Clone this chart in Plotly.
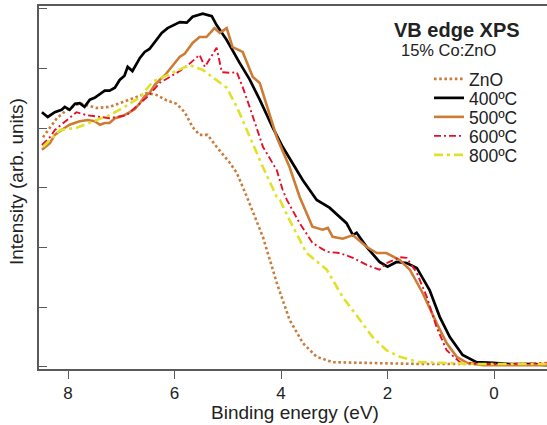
import plotly.graph_objects as go

# Valence-band edge XPS spectra, 15% Co:ZnO annealed at several temperatures
zno_x = [8.47, 8.21, 8.02, 7.78, 7.46, 7.22, 6.97, 6.71, 6.52, 6.34, 6.15, 5.96, 5.81, 5.66, 5.53,
         5.38, 5.21, 4.96, 4.83, 4.64, 4.34, 4.08, 3.84, 3.59, 3.33, 3.03, 2.39, 1.40, 0.27, -0.99]
zno_y = [3.85, 4.17, 4.31, 4.42, 4.34, 4.36, 4.44, 4.52, 4.59, 4.56, 4.47, 4.41, 4.27, 4.02, 3.89,
         3.89, 3.69, 3.42, 3.25, 2.85, 2.18, 1.41, 0.79, 0.40, 0.17, 0.08, 0.07, 0.05, 0.05, 0.05]

t400_x = [8.49, 8.38, 8.25, 8.12, 8.06, 7.97, 7.87, 7.78, 7.69, 7.59, 7.50, 7.40, 7.31, 7.22, 7.12,
          7.03, 6.94, 6.88, 6.79, 6.65, 6.56, 6.47, 6.37, 6.24, 6.13, 6.00, 5.90, 5.77, 5.66, 5.47,
          5.30, 5.21, 5.02, 4.78, 4.59, 4.40, 4.16, 3.97, 3.71, 3.59, 3.33, 3.09, 2.77, 2.65, 2.58,
          2.39, 2.15, 2.00, 1.83, 1.64, 1.45, 1.21, 1.02, 0.83, 0.59, 0.33, 0.02, -0.30, -0.67, -0.99]
t400_y = [4.27, 4.19, 4.27, 4.31, 4.36, 4.31, 4.41, 4.42, 4.36, 4.48, 4.51, 4.58, 4.63, 4.63, 4.68,
          4.81, 4.88, 5.03, 4.96, 5.18, 5.28, 5.33, 5.45, 5.60, 5.68, 5.73, 5.78, 5.77, 5.87, 5.92,
          5.88, 5.73, 5.48, 5.10, 4.82, 4.48, 4.02, 3.69, 3.30, 3.13, 2.80, 2.67, 2.41, 2.21, 2.25,
          2.01, 1.76, 1.68, 1.76, 1.74, 1.66, 1.29, 0.84, 0.50, 0.20, 0.08, 0.07, 0.05, 0.05, 0.03]

t500_x = [8.49, 8.34, 8.25, 8.15, 8.06, 7.97, 7.87, 7.78, 7.63, 7.50, 7.40, 7.31, 7.22, 7.12, 7.03,
          6.94, 6.84, 6.75, 6.65, 6.56, 6.47, 6.37, 6.28, 6.18, 6.09, 6.00, 5.90, 5.81, 5.66, 5.53,
          5.40, 5.25, 5.15, 5.02, 4.91, 4.72, 4.53, 4.40, 4.08, 3.84, 3.65, 3.41, 3.22, 3.12, 3.03,
          2.84, 2.65, 2.39, 2.20, 2.02, 1.77, 1.58, 1.34, 1.08, 0.89, 0.70, 0.51, 0.21, -0.30, -0.99]
t500_y = [3.64, 3.75, 3.89, 3.96, 4.01, 4.06, 4.09, 4.12, 4.14, 4.12, 4.06, 4.09, 4.09, 4.17, 4.19,
          4.22, 4.27, 4.32, 4.42, 4.54, 4.59, 4.73, 4.81, 4.89, 4.99, 5.09, 5.20, 5.25, 5.43, 5.53,
          5.53, 5.68, 5.60, 5.68, 5.36, 5.28, 4.86, 4.76, 3.85, 3.35, 2.85, 2.35, 2.30, 2.33, 2.18,
          2.15, 2.21, 2.01, 1.91, 1.91, 1.79, 1.63, 1.24, 0.74, 0.40, 0.17, 0.07, 0.03, 0.03, 0.03]

t600_x = [8.49, 8.34, 8.25, 8.02, 7.84, 7.65, 7.40, 7.22, 6.90, 6.65, 6.47, 6.28, 6.09, 5.90, 5.72,
          5.58, 5.53, 5.43, 5.21, 5.11, 4.96, 4.83, 4.72, 4.59, 4.34, 4.08, 3.97, 3.89, 3.65, 3.41,
          3.14, 2.90, 2.65, 2.39, 2.15, 2.02, 1.77, 1.64, 1.45, 1.26, 1.08, 0.89, 0.64, 0.27, -0.30, -0.99]
t600_y = [3.72, 3.85, 3.97, 4.14, 4.27, 4.22, 4.19, 4.17, 4.22, 4.42, 4.56, 4.76, 4.86, 4.96, 5.08,
          5.19, 5.23, 5.03, 5.35, 4.94, 4.93, 4.94, 4.69, 4.36, 3.69, 3.30, 2.97, 2.80, 2.41, 2.08,
          1.93, 1.91, 1.83, 1.71, 1.63, 1.74, 1.84, 1.83, 1.58, 1.17, 0.67, 0.28, 0.08, 0.05, 0.05, 0.07]

t800_x = [8.47, 8.34, 8.15, 7.84, 7.53, 7.22, 6.97, 6.65, 6.41, 6.03, 5.72, 5.47, 5.21, 5.02, 4.83,
          4.59, 4.34, 4.08, 4.02, 3.84, 3.52, 3.14, 2.84, 2.52, 2.28, 2.02, 1.77, 1.40, 1.02, 0.27, -0.99]
t800_y = [3.69, 3.80, 3.97, 4.01, 4.11, 4.22, 4.34, 4.52, 4.78, 4.94, 5.06, 4.98, 4.81, 4.68, 4.36,
          3.85, 3.35, 2.85, 2.80, 2.46, 1.91, 1.63, 1.17, 0.79, 0.50, 0.28, 0.17, 0.08, 0.07, 0.05, 0.05]

x_ticks = [8, 6, 4, 2, 0]
y_ticks = [0, 1, 2, 3, 4, 5, 6]

FONT = "Liberation Sans, Arial, sans-serif"
AXIS = "#5a5a5a"
TEXT = "#222222"

series = [
    ("ZnO",   zno_x,  zno_y,  dict(color="#c97d3c", width=2.6, dash="2.6px,2.6px")),
    ("400ºC", t400_x, t400_y, dict(color="#000000", width=2.7)),
    ("500ºC", t500_x, t500_y, dict(color="#cd7c36", width=2.6)),
    ("600ºC", t600_x, t600_y, dict(color="#e5102a", width=1.9, dash="7px,3px,2px,3px")),
    ("800ºC", t800_x, t800_y, dict(color="#e1e12a", width=2.6, dash="9px,4px,3px,4px")),
]

W, H = 547, 425
ML, MR, MT, MB = 39, 0, 6, 56
PW, PH = W - ML - MR, H - MT - MB


def px_x(p):
    return (p - ML) / PW


def px_y(p):
    return (H - MB - p) / PH


fig = go.Figure()

# one single-entry legend per trace so the rows can sit tightly stacked
legend_rows = [79, 98, 117, 136, 155]
layout_legends = {}
for i, (name, xs, ys, line) in enumerate(series):
    key = "legend" if i == 0 else f"legend{i + 1}"
    fig.add_trace(go.Scatter(x=xs, y=ys, mode="lines", name=name, line=line, legend=key))
    layout_legends[key] = dict(
        x=px_x(429), y=px_y(legend_rows[i]), xanchor="left", yanchor="middle",
        bgcolor="rgba(0,0,0,0)", borderwidth=0,
        font=dict(family=FONT, size=17.5, color=TEXT),
        itemwidth=30, tracegroupgap=0,
    )

fig.update_layout(
    width=W, height=H,
    margin=dict(l=ML, r=MR, t=MT, b=MB, pad=0),
    paper_bgcolor="white", plot_bgcolor="white",
    showlegend=True,
    font=dict(family=FONT, color=TEXT),
    xaxis=dict(
        range=[8.545, -0.995], tickvals=x_ticks, ticktext=[str(v) for v in x_ticks],
        ticks="outside", ticklen=8, tickwidth=1.3, tickcolor=AXIS,
        showline=True, linecolor=AXIS, linewidth=1.6, mirror=True,
        showgrid=False, zeroline=False,
        tickfont=dict(family=FONT, size=17, color=TEXT),
    ),
    yaxis=dict(
        range=[-0.034, 6.05], tickvals=y_ticks, showticklabels=False,
        ticks="inside", ticklen=8, tickwidth=1.3, tickcolor=AXIS,
        showline=True, linecolor=AXIS, linewidth=1.6,
        showgrid=False, zeroline=False,
    ),
    annotations=[
        dict(text="Binding energy (eV)", x=px_x(295), y=px_y(412), xref="paper", yref="paper",
             showarrow=False, xanchor="center", yanchor="middle",
             font=dict(family=FONT, size=19, color=TEXT)),
        dict(text="Intensity (arb. units)", x=px_x(16), y=px_y(182), xref="paper", yref="paper",
             showarrow=False, xanchor="center", yanchor="middle", textangle=-90,
             font=dict(family=FONT, size=19, color=TEXT)),
        dict(text="<b>VB edge XPS</b>", x=px_x(522), y=px_y(30), xref="paper", yref="paper",
             showarrow=False, xanchor="right", yanchor="middle",
             font=dict(family=FONT, size=20, color=TEXT)),
        dict(text="15% Co:ZnO", x=px_x(399), y=px_y(50), xref="paper", yref="paper",
             showarrow=False, xanchor="left", yanchor="middle",
             font=dict(family=FONT, size=16.5, color=TEXT)),
    ],
    **layout_legends,
)

fig.write_html("out.html")
